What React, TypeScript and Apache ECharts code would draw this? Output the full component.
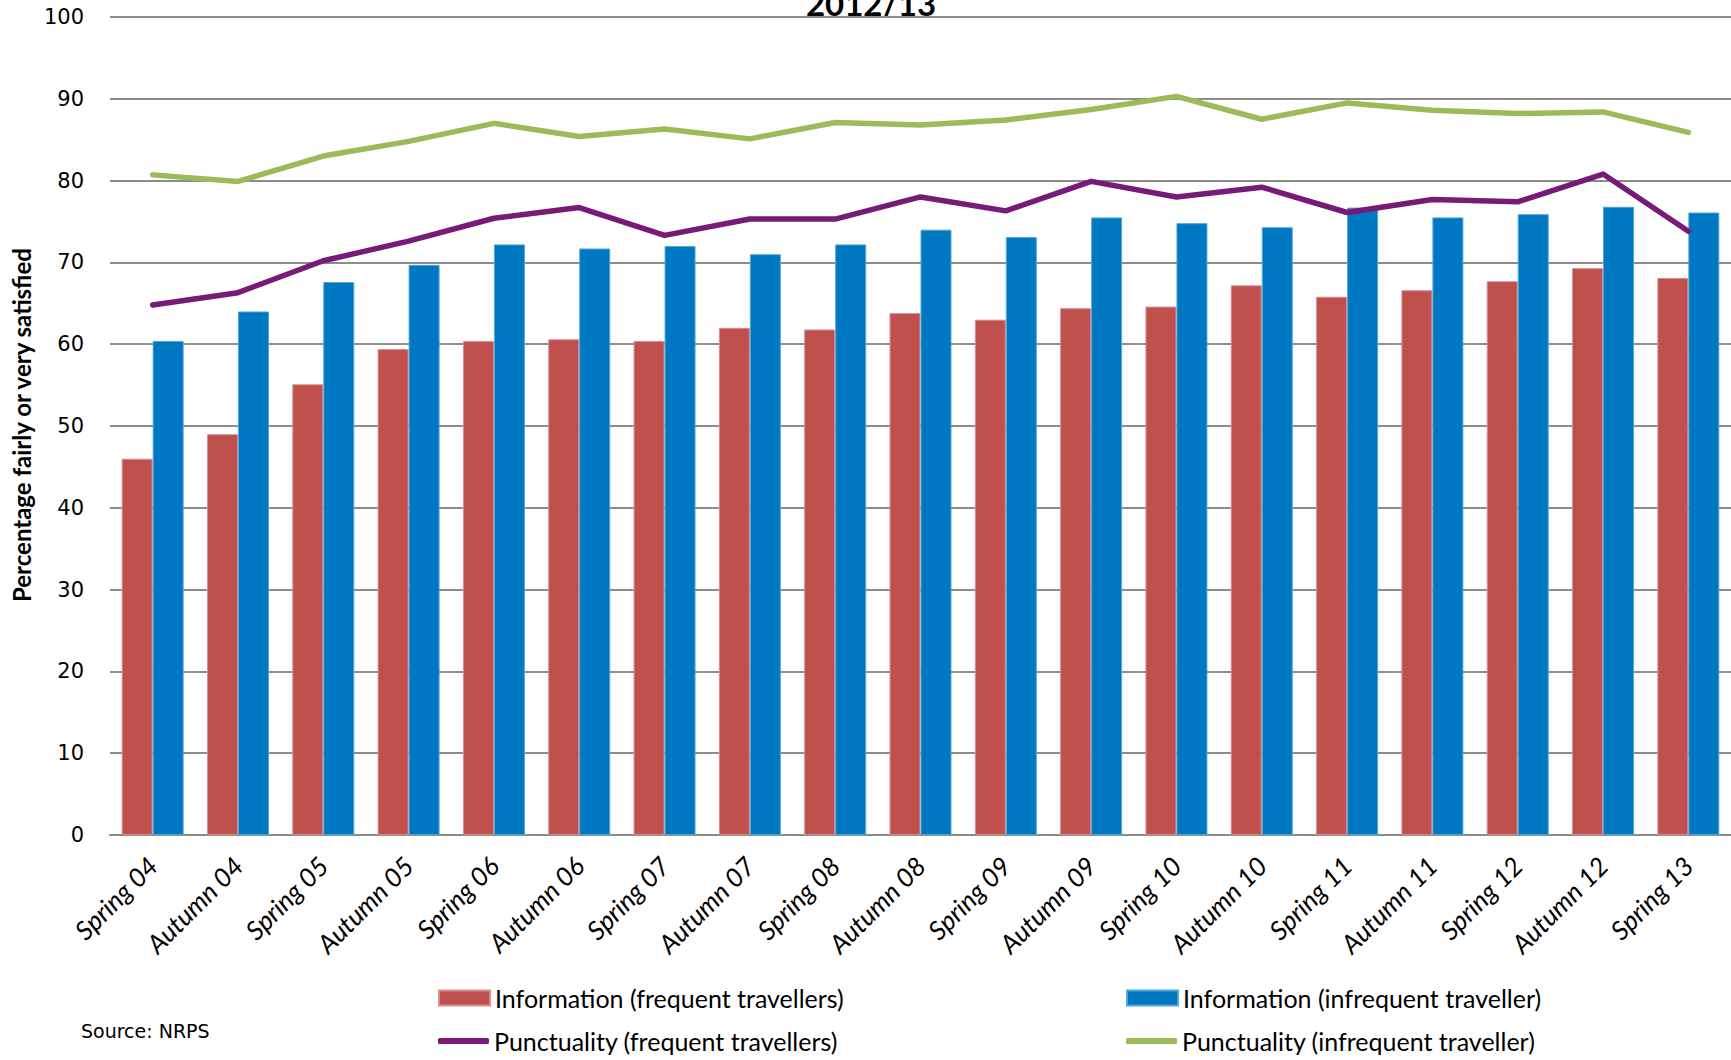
import React, { useEffect, useRef } from "react";
import * as echarts from "echarts";

const categories = [
  "Spring 04", "Autumn 04", "Spring 05", "Autumn 05", "Spring 06", "Autumn 06",
  "Spring 07", "Autumn 07", "Spring 08", "Autumn 08", "Spring 09", "Autumn 09",
  "Spring 10", "Autumn 10", "Spring 11", "Autumn 11", "Spring 12", "Autumn 12", "Spring 13",
];

const infoFrequent = [46.0, 49.0, 55.1, 59.4, 60.4, 60.6, 60.4, 62.0, 61.8, 63.8, 63.0, 64.4, 64.6, 67.2, 65.8, 66.6, 67.7, 69.3, 68.1];
const infoInfrequent = [60.4, 64.0, 67.6, 69.7, 72.2, 71.7, 72.0, 71.0, 72.2, 74.0, 73.1, 75.5, 74.8, 74.3, 76.7, 75.5, 75.9, 76.8, 76.1];
const punctFrequent = [64.8, 66.3, 70.2, 72.6, 75.4, 76.7, 73.3, 75.3, 75.3, 78.0, 76.3, 79.9, 78.0, 79.2, 76.1, 77.7, 77.4, 80.8, 73.8];
const punctInfrequent = [80.7, 79.9, 83.0, 84.8, 87.0, 85.4, 86.3, 85.1, 87.1, 86.8, 87.4, 88.7, 90.3, 87.5, 89.5, 88.6, 88.2, 88.4, 85.9];

const seriesNames = [
  "Information (frequent travellers)",
  "Information (infrequent traveller)",
  "Punctuality (frequent travellers)",
  "Punctuality (infrequent traveller)",
];

const titleText = "2012/13";
const yAxisTitle = "Percentage fairly or very satisfied";
const sourceText = "Source: NRPS";

const RED = "#C0504D";
const BLUE = "#0077C1";
const PURPLE = "#771A78";
const GREEN = "#9BBB59";

export default function App() {
  const ref = useRef<HTMLDivElement>(null);

  useEffect(() => {
    if (!ref.current) return;
    const chart = echarts.init(ref.current, undefined, { renderer: "svg" });

    const legendText = {
      fontFamily: "Lato",
      fontSize: 25,
      color: "#000",
      lineHeight: 28,
    };

    const mkLegend = (name: string, left: number, top: number, isBar: boolean) => ({
      show: true,
      data: [name],
      left,
      top,
      padding: 0,
      orient: "horizontal",
      icon: isBar ? "rect" : "roundRect",
      itemWidth: 51,
      itemHeight: isBar ? 15 : 6,
      itemGap: 5,
      selectedMode: false,
      textStyle: legendText,
    });

    const option: any = {
      animation: false,
      backgroundColor: "#fff",
      grid: {
        left: 110,
        top: 17,
        width: 1623,
        height: 818,
        containLabel: false,
      },
      legend: [
        mkLegend(seriesNames[0], 438, 984, true),
        mkLegend(seriesNames[1], 1126, 984, true),
        mkLegend(seriesNames[2], 438, 1027, false),
        mkLegend(seriesNames[3], 1126, 1027, false),
      ],
      xAxis: {
        type: "category",
        data: categories,
        axisLine: { show: true, lineStyle: { color: "#8c8c8c", width: 2 } },
        axisTick: { show: false },
        axisLabel: {
          rotate: 45,
          margin: 26,
          interval: 0,
          fontFamily: "Lato",
          fontStyle: "italic",
          fontSize: 26,
          color: "#000",
        },
      },
      yAxis: {
        type: "value",
        min: 0,
        max: 100,
        interval: 10,
        axisLine: { show: false },
        axisTick: { show: false },
        splitLine: { show: true, lineStyle: { color: "#8c8c8c", width: 2 } },
        axisLabel: {
          margin: 26,
          fontFamily: "DejaVu Sans",
          fontSize: 21,
          color: "#000",
        },
      },
      graphic: [
        {
          type: "text",
          x: 871,
          y: 19,
          style: {
            text: titleText,
            fontFamily: "Lato",
            fontWeight: "bold",
            fontSize: 33,
            fill: "#000",
            textAlign: "center",
            textVerticalAlign: "bottom",
          },
        },
        {
          type: "text",
          x: 21,
          y: 425,
          rotation: Math.PI / 2,
          style: {
            text: yAxisTitle,
            fontFamily: "Lato",
            fontWeight: "bold",
            fontSize: 24,
            fill: "#000",
            textAlign: "center",
            textVerticalAlign: "middle",
          },
        },
        {
          type: "text",
          x: 81,
          y: 1031,
          style: {
            text: sourceText,
            fontFamily: "DejaVu Sans",
            fontSize: 19,
            fill: "#000",
            textAlign: "left",
            textVerticalAlign: "middle",
          },
        },
      ],
      series: [
        {
          name: seriesNames[0],
          type: "bar",
          data: infoFrequent,
          barWidth: 31,
          barGap: "0%",
          itemStyle: { color: RED, borderColor: "#D78F8D", borderWidth: 1 },
        },
        {
          name: seriesNames[1],
          type: "bar",
          data: infoInfrequent,
          barWidth: 31,
          barGap: "0%",
          itemStyle: { color: BLUE, borderColor: "#4FA6DE", borderWidth: 1 },
        },
        {
          name: seriesNames[2],
          type: "line",
          data: punctFrequent,
          showSymbol: false,
          symbol: "none",
          itemStyle: { color: PURPLE },
          lineStyle: { color: PURPLE, width: 5.5, cap: "round", join: "round" },
          z: 3,
        },
        {
          name: seriesNames[3],
          type: "line",
          data: punctInfrequent,
          showSymbol: false,
          symbol: "none",
          itemStyle: { color: GREEN },
          lineStyle: { color: GREEN, width: 5.5, cap: "round", join: "round" },
          z: 3,
        },
      ],
    };

    chart.setOption(option);
    return () => chart.dispose();
  }, []);

  return (
    <div
      ref={ref}
      style={{ position: "fixed", left: 0, top: 0, width: 1731, height: 1060, background: "#fff" }}
    />
  );
}
